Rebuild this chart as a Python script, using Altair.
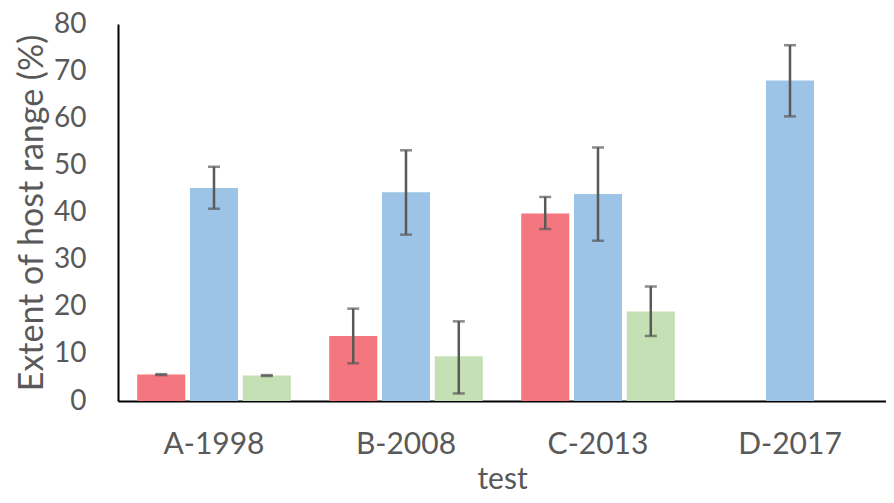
import altair as alt
import pandas as pd

categories = ["A-1998", "B-2008", "C-2013", "D-2017"]
series = ["Series 1", "Series 2", "Series 3"]
colors = ["#F4777F", "#9DC3E6", "#C5E0B4"]

s1_mean = [5.6, 13.8, 39.8, None]
s1_low = [5.5, 8.0, 36.5, None]
s1_high = [5.7, 19.6, 43.3, None]

s2_mean = [45.2, 44.3, 43.9, 68.0]
s2_low = [40.8, 35.3, 34.0, 60.4]
s2_high = [49.7, 53.2, 53.8, 75.5]

s3_mean = [5.4, 9.5, 19.0, None]
s3_low = [5.3, 1.6, 13.8, None]
s3_high = [5.5, 16.9, 24.3, None]

rows = []
for name, m, lo, hi in [
    ("Series 1", s1_mean, s1_low, s1_high),
    ("Series 2", s2_mean, s2_low, s2_high),
    ("Series 3", s3_mean, s3_low, s3_high),
]:
    for c, v, l, h in zip(categories, m, lo, hi):
        if v is None:
            continue
        rows.append({"test": c, "series": name, "value": v, "low": l, "high": h})
df = pd.DataFrame(rows)

x = alt.X(
    "test:N",
    sort=categories,
    scale=alt.Scale(domain=categories, paddingInner=0.2, paddingOuter=0.1),
    axis=alt.Axis(
        title="test", labelAngle=0, ticks=False, domainColor="black", domainWidth=2,
        labelFontSize=30, labelPadding=28, labelColor="#595959", labelFont="Lato",
        titleFontSize=30, titlePadding=5, titleColor="#595959", titleFont="Lato",
        titleFontWeight="normal",
    ),
)
xo = alt.XOffset("series:N", scale=alt.Scale(domain=series, paddingInner=0.09))
y = alt.Y(
    "value:Q",
    scale=alt.Scale(domain=[0, 80], nice=False),
    axis=alt.Axis(
        title="Extent of host range (%)", values=list(range(0, 81, 10)), grid=False,
        ticks=False, domainColor="black", domainWidth=2,
        labelFontSize=28, labelPadding=32, labelColor="#595959", labelFont="Lato",
        titleFontSize=34, titlePadding=4, titleColor="#595959", titleFont="Lato",
        titleFontWeight="normal",
    ),
)

base = alt.Chart(df)
bars = base.mark_bar().encode(
    x=x, xOffset=xo, y=y,
    color=alt.Color("series:N", scale=alt.Scale(domain=series, range=colors), legend=None),
)
rules = base.mark_rule(color="#595959", strokeWidth=2.5).encode(
    x=x, xOffset=xo, y=alt.Y("low:Q"), y2="high:Q"
)
cap_lo = base.mark_tick(color="#595959", size=12, thickness=2.5).encode(
    x=x, xOffset=xo, y=alt.Y("low:Q")
)
cap_hi = base.mark_tick(color="#595959", size=12, thickness=2.5).encode(
    x=x, xOffset=xo, y=alt.Y("high:Q")
)

chart = alt.layer(bars, rules, cap_lo, cap_hi).properties(
    width=768, height=377,
    autosize=alt.AutoSizeParams(type="none"),
    padding={"left": 110, "top": 16, "right": 0, "bottom": 94},
).configure_view(stroke=None)

chart.save("out.html", embed_options={"renderer": "svg", "actions": False})
